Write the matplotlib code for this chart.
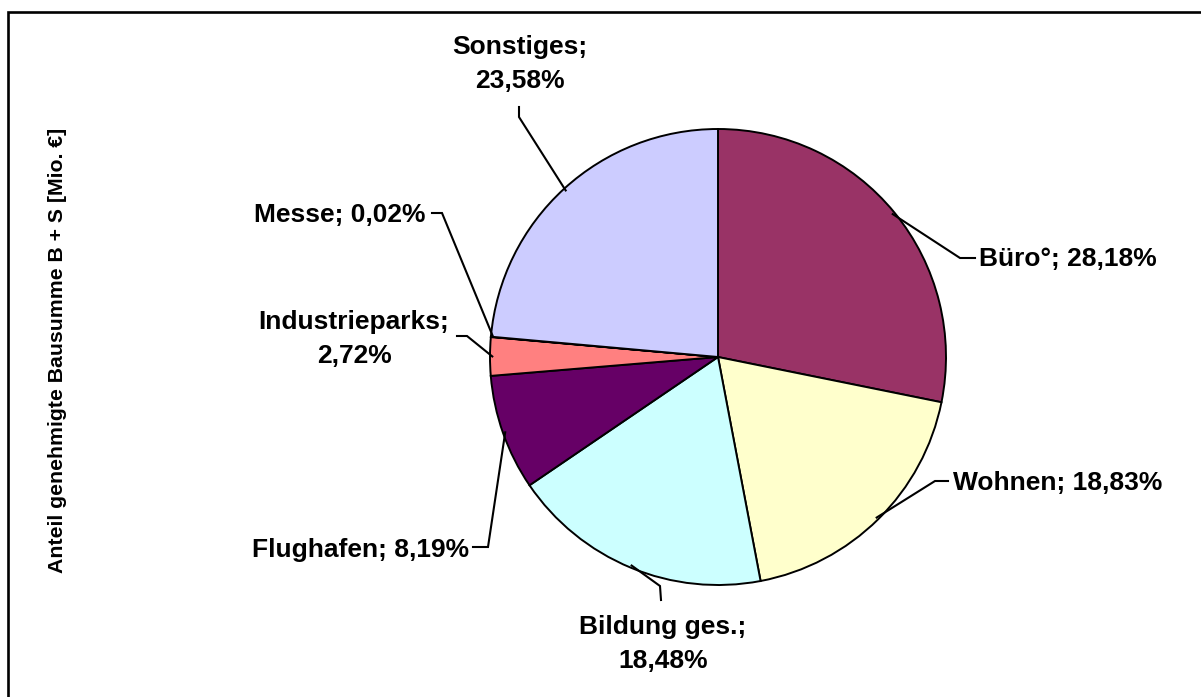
import numpy as np
import matplotlib.pyplot as plt

plt.rcParams['font.family'] = ['Liberation Sans', 'DejaVu Sans']

# Anteile genehmigte Bausumme nach Nutzung
categories = ['Büro°', 'Wohnen', 'Bildung ges.', 'Flughafen', 'Industrieparks', 'Messe', 'Sonstiges']
shares = [28.18, 18.83, 18.48, 8.19, 2.72, 0.02, 23.58]
colors = ['#993366', '#FFFFCC', '#CCFFFF', '#660066', '#FF8080', '#0066CC', '#CCCCFF']
ylabel = 'Anteil genehmigte Bausumme B + S [Mio. €]'

W, H = 1201, 697

# label layout in pixel coordinates (top-left origin):
# (bend point, end point, text position, alignment, two-line label)
label_layout = [
    ((960, 258), (975, 258), (979, 259), 'left', False),
    ((935, 481), (948, 481), (953, 483), 'left', False),
    ((660, 586), (661, 600), (663, 644), 'center', True),
    ((488, 547), (473, 547), (469, 550), 'right', False),
    ((467, 336), (457, 336), (354, 339), 'center', True),
    ((442, 213), (432, 213), (425, 215), 'right', False),
    ((519, 117), (519, 107), (520, 64), 'center', True),
]

center_px = (718, 357)
radius = 228


def px(x, y):
    return x, H - y


fig = plt.figure(figsize=(W / 100, H / 100), dpi=100)
ax = fig.add_axes([0, 0, 1, 1])

cx, cy = px(*center_px)
wedges, _ = ax.pie(shares, colors=colors, startangle=90, counterclock=False,
                   center=(cx, cy), radius=radius, frame=True,
                   wedgeprops=dict(edgecolor='black', linewidth=1.4))
ax.set_xlim(0, W)
ax.set_ylim(0, H)
ax.axis('off')

cum = np.cumsum([0] + shares[:-1]) / sum(shares)
for name, val, c0, lay in zip(categories, shares, cum, label_layout):
    bend, end, tpos, ha, two_lines = lay
    theta = np.deg2rad(90 - 360 * (c0 + val / sum(shares) / 2))
    sx = cx + 0.99 * radius * np.cos(theta)
    sy = cy + 0.99 * radius * np.sin(theta)
    bx, by = px(*bend)
    ex, ey = px(*end)
    ax.plot([sx, bx, ex], [sy, by, ey], color='black', lw=1.5, solid_joinstyle='miter')
    val_txt = f'{val:.2f}%'.replace('.', ',')
    txt = f'{name};\n{val_txt}' if two_lines else f'{name}; {val_txt}'
    tx, ty = px(*tpos)
    ax.text(tx, ty, txt, ha=ha, va='center', fontsize=19, fontweight='bold',
            linespacing=1.55, multialignment='center')

# y-axis title on the left
ax.text(*px(58, 350), ylabel, rotation=90, ha='center', va='center',
        fontsize=15.3, fontweight='bold')

# chart frame (left and top edges)
ax.plot([8, 8, W], [0, H - 12, H - 12], color='black', lw=1.9, solid_joinstyle='miter')

fig.savefig('out.png', dpi=100)
